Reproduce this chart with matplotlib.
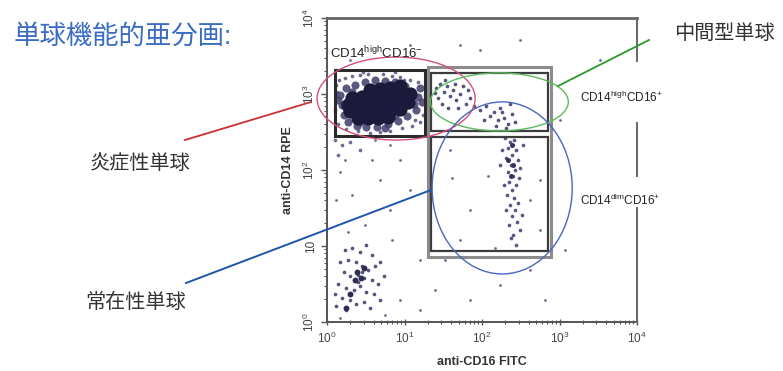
import numpy as np
import matplotlib
matplotlib.use('Agg')
import matplotlib.pyplot as plt
from matplotlib.patches import Ellipse, Rectangle
from matplotlib.ticker import LogLocator, NullFormatter, FixedLocator

plt.rcParams['font.family'] = ['Liberation Sans', 'Noto Sans CJK JP']
plt.rcParams['mathtext.fontset'] = 'custom'
plt.rcParams['mathtext.rm'] = 'Liberation Sans'
plt.rcParams['mathtext.it'] = 'Liberation Sans:italic'
plt.rcParams['mathtext.bf'] = 'Liberation Sans:bold'

# events, log10 of fluorescence (CD16 FITC, CD14 RPE)
# classical monocytes, dense core
core_cd16 = [0.56, 0.68, 0.81, 0.94,
             0.32, 0.45, 0.58, 0.71, 0.84, 0.97, 1.07,
             0.27, 0.40, 0.53, 0.66, 0.79, 0.92, 1.05,
             0.30, 0.43, 0.55, 0.68, 0.81, 0.94,
             0.40, 0.53, 0.66, 0.79]
core_cd14 = [3.05, 3.06, 3.08, 3.10,
             2.95, 2.96, 2.96, 2.97, 2.98, 2.99, 3.00,
             2.86, 2.86, 2.87, 2.87, 2.88, 2.89, 2.90,
             2.77, 2.77, 2.78, 2.78, 2.79, 2.80,
             2.68, 2.68, 2.69, 2.70]
# classical monocytes, edge of the cloud
ring_cd16 = [0.17, 0.19, 0.22, 0.25, 0.27, 0.36, 0.39, 0.49, 0.50, 0.62, 0.65, 0.75, 0.79, 0.88,
             0.92, 1.01, 1.03, 1.10, 1.12, 1.15, 1.17, 1.20, 0.14, 0.32, 0.88, 1.23, 0.43, 0.75]
ring_cd14 = [2.99, 2.86, 2.72, 3.08, 2.63, 3.12, 2.58, 3.16, 2.57, 3.18, 2.57, 3.17, 2.61, 3.16,
             2.65, 3.11, 2.71, 3.03, 2.87, 2.79, 2.96, 3.08, 2.92, 3.03, 2.72, 2.89, 2.63, 2.55]
fringe_cd16 = [0.12, 0.15, 0.23, 0.32, 0.43, 0.53, 0.72, 0.84, 0.94, 1.07, 1.17, 1.24, 1.20, 1.10,
               0.97, 0.81, 0.68, 0.55, 0.40, 0.25, 0.14, 0.10, 0.13, 0.99, 0.46, 0.88, 1.14, 1.26,
               1.29, 1.33, 0.10, 0.19, 0.30, 0.43, 0.14]
fringe_cd14 = [3.12, 3.18, 3.21, 3.24, 3.25, 3.26, 3.26, 3.24, 3.22, 3.18, 3.16, 2.72, 2.63, 2.58,
               2.55, 2.51, 2.50, 2.49, 2.51, 2.54, 2.61, 2.79, 3.03, 3.18, 3.29, 3.29, 2.66, 2.99,
               2.86, 3.05, 2.39, 2.33, 2.37, 2.26, 2.20]
# intermediate monocytes
inter_cd16 = [1.41, 1.46, 1.51, 1.55, 1.59, 1.43, 1.48, 1.63, 1.66, 1.72, 1.75, 1.79, 1.56, 1.39,
              1.69, 1.85, 1.52, 1.65, 1.82, 1.90, 1.97, 2.05, 2.10, 2.15, 2.21, 2.23, 2.28, 2.34,
              2.39, 2.31, 2.18, 2.43, 2.03, 2.26, 2.36]
inter_cd14 = [3.08, 3.13, 3.03, 3.11, 2.97, 2.95, 2.87, 3.05, 2.92, 3.00, 3.11, 2.87, 2.82, 3.01,
              2.82, 2.95, 3.18, 3.13, 3.05, 2.84, 2.79, 2.84, 2.71, 2.76, 2.66, 2.82, 2.68, 2.61,
              2.74, 2.55, 2.58, 2.63, 2.66, 2.76, 2.87]
# non-classical monocytes
nonc_cd16 = [2.30, 2.36, 2.41, 2.34, 2.44, 2.39, 2.31, 2.46, 2.37, 2.43, 2.34, 2.49, 2.40, 2.35,
             2.44, 2.39, 2.32, 2.41, 2.46, 2.36, 2.43, 2.39, 2.45, 2.35, 2.49, 2.40, 2.52, 2.28,
             2.31, 2.48, 2.26, 2.53, 2.23, 2.37, 2.44]
nonc_cd14 = [2.42, 2.37, 2.39, 2.29, 2.26, 2.20, 2.16, 2.13, 2.07, 2.00, 1.97, 2.03, 1.92, 1.84,
             1.80, 1.74, 1.67, 1.63, 1.57, 1.54, 1.47, 1.40, 1.32, 1.28, 1.21, 1.14, 1.41, 1.80,
             1.47, 1.89, 2.26, 2.33, 2.07, 1.11, 1.01]
nonc_dark_cd16 = [2.40, 2.37, 2.34, 2.39]
nonc_dark_cd14 = [2.07, 1.92, 2.13, 2.33]
# CD14- CD16- events, bottom left
neg_cd16 = [0.23, 0.32, 0.43, 0.50, 0.58, 0.17, 0.27, 0.37, 0.45, 0.53, 0.62, 0.68, 0.22, 0.30,
            0.40, 0.48, 0.58, 0.66, 0.14, 0.25, 0.35, 0.43, 0.50, 0.61, 0.19, 0.30, 0.37, 0.48,
            0.12, 0.25, 0.55, 0.68, 0.74, 0.10, 0.40, 0.45]
neg_cd14 = [0.95, 0.97, 0.92, 1.01, 0.88, 0.79, 0.82, 0.79, 0.74, 0.68, 0.74, 0.79, 0.66, 0.61,
            0.62, 0.58, 0.55, 0.50, 0.50, 0.45, 0.42, 0.47, 0.39, 0.37, 0.32, 0.29, 0.24, 0.26,
            0.21, 0.16, 0.18, 0.29, 0.61, 0.37, 0.53, 0.66]
neg_dark_cd16 = [0.39, 0.44, 0.36, 0.48, 0.30, 0.25]
neg_dark_cd14 = [0.66, 0.58, 0.55, 0.71, 0.37, 0.18]
# scattered events
other_cd16 = [0.23, 0.58, 0.17, 0.68, 0.32, 0.12, 0.81, 0.49, 0.27, 0.94, 1.07, 0.84, 1.20, 1.39,
              1.85, 2.23, 2.62, 2.81, 1.61, 2.08, 1.85, 2.62, 2.75, 1.72, 2.17, 1.59, 2.75, 0.94,
              0.75, 0.17, 1.20, 3.01, 3.07, 1.72, 1.07, 1.97, 2.49, 3.52, 0.30, 0.62, 0.81, 1.33,
              1.52]
other_cd14 = [2.13, 2.13, 1.97, 1.87, 1.67, 1.61, 1.47, 1.28, 1.18, 2.13, 1.74, 1.08, 0.82, 0.42,
              0.29, 0.49, 0.68, 0.29, 1.89, 1.92, 1.47, 1.61, 1.21, 1.08, 0.97, 2.26, 1.87, 0.29,
              0.09, 0.05, 0.16, 2.66, 0.95, 3.64, 3.64, 3.58, 3.71, 3.45, 3.45, 2.39, 2.33, 1.61,
              0.82]

# gates: (CD16 low, CD16 high, CD14 low, CD14 high)
gate_classical = (1.27, 18.4, 280, 2070)
gate_outer = (20.1, 777, 7.16, 2265)
gate_intermediate = (22.0, 711, 326, 1888)
gate_nonclassical = (22.0, 711, 8.6, 272)

x_ticks = [1, 10, 100, 1000, 10000]
x_ticklabels = ['$10^0$', '$10^1$', '$10^2$', '$10^3$', '$10^4$']
y_ticklabels = ['$10^0$', '10', '$10^2$', '$10^3$', '$10^4$']


def lin(a):
    return 10 ** np.asarray(a)


fig = plt.figure(figsize=(7.83, 3.71), dpi=100)
ax = fig.add_axes([327 / 783, 49 / 371, 310 / 783, 304 / 371])

ax.scatter(lin(other_cd16), lin(other_cd14), s=4, c='#6e6c92', lw=0, zorder=2)
ax.scatter(lin(fringe_cd16), lin(fringe_cd14), s=7, c='#6e6c92', lw=0, zorder=2)
ax.scatter(lin(ring_cd16), lin(ring_cd14), s=34, c='#3e3c6c', lw=0, alpha=0.85, zorder=2)
ax.scatter(lin(core_cd16), lin(core_cd14), s=105, c='#1c1a3a', lw=0, zorder=2)
ax.scatter(lin(inter_cd16), lin(inter_cd14), s=7, c='#55537e', lw=0, zorder=2)
ax.scatter(lin(nonc_cd16), lin(nonc_cd14), s=7, c='#5f5484', lw=0, zorder=2)
ax.scatter(lin(nonc_dark_cd16), lin(nonc_dark_cd14), s=13, c='#3a3060', lw=0, zorder=2)
ax.scatter(lin(neg_cd16), lin(neg_cd14), s=7, c='#56557c', lw=0, zorder=2)
ax.scatter(lin(neg_dark_cd16), lin(neg_dark_cd14), s=18, c='#2e2c50', lw=0, zorder=2)

# gates
def add_gate(g, ec, lw):
    ax.add_patch(Rectangle((g[0], g[2]), g[1] - g[0], g[3] - g[2], fill=False,
                           ec=ec, lw=lw, zorder=3))

add_gate(gate_outer, '#8c8c8c', 2.2)
add_gate(gate_intermediate, '#3c3c3c', 1.6)
add_gate(gate_nonclassical, '#3c3c3c', 1.6)
add_gate(gate_classical, '#2a2a2a', 2.2)

# population circles (axes fraction)
ax.add_patch(Ellipse((0.223, 0.735), 0.51, 0.273, transform=ax.transAxes, fill=False,
                     ec='#d0507a', lw=1.0, zorder=4, clip_on=False))
ax.add_patch(Ellipse((0.556, 0.724), 0.445, 0.191, transform=ax.transAxes, fill=False,
                     ec='#5cba5c', lw=1.0, zorder=4, clip_on=False))
ax.add_patch(Ellipse((0.565, 0.441), 0.452, 0.566, transform=ax.transAxes, fill=False,
                     ec='#4a66c0', lw=1.0, zorder=4, clip_on=False))

ax.set_xscale('log')
ax.set_yscale('log')
ax.set_xlim(1, 1e4)
ax.set_ylim(1, 1e4)
ax.xaxis.set_major_locator(FixedLocator(x_ticks))
ax.yaxis.set_major_locator(FixedLocator(x_ticks))
ax.xaxis.set_minor_locator(LogLocator(base=10, subs=np.arange(2, 10)))
ax.yaxis.set_minor_locator(LogLocator(base=10, subs=np.arange(2, 10)))
ax.xaxis.set_minor_formatter(NullFormatter())
ax.yaxis.set_minor_formatter(NullFormatter())
ax.set_xticklabels(x_ticklabels)
ax.set_yticklabels(y_ticklabels, rotation=90, va='center')
ax.tick_params(axis='x', which='major', direction='inout', length=5, width=1.0,
               labelsize=8.5, labelcolor='#444444', color='#555555', pad=4)
ax.tick_params(axis='x', which='minor', direction='inout', length=3, width=0.8, color='#555555')
ax.tick_params(axis='y', which='major', direction='out', length=4, width=1.0,
               labelsize=8.5, labelcolor='#444444', color='#555555', pad=3)
ax.tick_params(axis='y', which='minor', direction='out', length=2.5, width=0.8, color='#555555')

for side in ['left', 'bottom']:
    ax.spines[side].set_color('#555555')
    ax.spines[side].set_linewidth(1.4)
ax.spines['top'].set_color('#666666')
ax.spines['top'].set_linewidth(2.0)
ax.spines['right'].set_visible(False)
# right frame line is broken where the labels sit
for y0, y1 in [(0.86, 1.0), (0.48, 0.655), (0.0, 0.375)]:
    ax.plot([1, 1], [y0, y1], transform=ax.transAxes, color='#666666', lw=1.4,
            clip_on=False, zorder=5)

ax.set_xlabel('anti-CD16 FITC', fontsize=9, fontweight='bold', color='#333333', labelpad=7)
ax.set_ylabel('anti-CD14 RPE', fontsize=9, fontweight='bold', color='#333333', labelpad=6)

ax.text(0.01, 0.885, r'CD14$^{\mathrm{high}}$CD16$^{-}$', transform=ax.transAxes,
        fontsize=9.5, color='#222222', va='center', ha='left', zorder=6)
fig.text(580 / 783, 1 - 97 / 371, r'CD14$^{\mathrm{high}}$CD16$^{+}$', fontsize=8.5,
         color='#222222', va='center', ha='left')
fig.text(580 / 783, 1 - 200 / 371, r'CD14$^{\mathrm{dim}}$CD16$^{+}$', fontsize=8.5,
         color='#222222', va='center', ha='left')

# side labels and leader lines
fig.text(14 / 783, 1 - 36 / 371, '単球機能的亜分画:', fontsize=19, color='#3a6cc4',
         va='center', ha='left')
fig.text(90 / 783, 1 - 163 / 371, '炎症性単球', fontsize=14.5, color='#333333',
         va='center', ha='left')
fig.text(85 / 783, 1 - 302 / 371, '常在性単球', fontsize=14.5, color='#333333',
         va='center', ha='left')
fig.text(674 / 783, 1 - 33 / 371, '中間型単球', fontsize=14.5, color='#333333',
         va='center', ha='left')

fig.add_artist(plt.Line2D([185 / 783, 311 / 783], [1 - 140 / 371, 1 - 102 / 371],
                          color='#cc3030', lw=1.3))
fig.add_artist(plt.Line2D([186 / 783, 431 / 783], [1 - 283 / 371, 1 - 190 / 371],
                          color='#1f55a8', lw=1.4))
fig.add_artist(plt.Line2D([558 / 783, 649 / 783], [1 - 86 / 371, 1 - 40 / 371],
                          color='#2a9a2a', lw=1.3))

fig.savefig('out.png', dpi=100)
